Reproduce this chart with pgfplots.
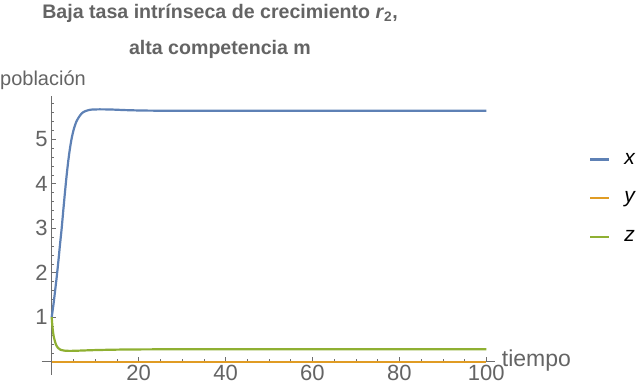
\documentclass[border=0pt]{standalone}
\usepackage{pgfplots}
\pgfplotsset{compat=1.18}
\usepackage{fontspec}
\setmainfont{Liberation Sans}
\definecolor{mblue}{RGB}{94,129,181}
\definecolor{morange}{RGB}{224,156,36}
\definecolor{mgreen}{RGB}{143,176,50}
\definecolor{lblgray}{RGB}{100,100,100}
\definecolor{axgray}{RGB}{110,110,110}
\begin{document}
\begin{tikzpicture}
\useasboundingbox (-41.7bp,-12bp) rectangle (595.3bp,375bp);
\begin{axis}[
  scale only axis,
  width=453.3bp, height=279bp,
  xmin=-2.3, xmax=102, ymin=-0.3, ymax=5.97,
  axis lines=middle,
  axis line style={-, draw=axgray, line width=0.6bp},
  xtick={20,40,60,80,100},
  ytick={1,2,3,4,5},
  minor xtick={5,10,...,100},
  minor ytick={0.2,0.4,...,5.9},
  tick align=inside,
  major tick length=4.5bp,
  minor tick length=2.5bp,
  tick style={draw=axgray, line width=0.5bp},
  /pgf/number format/assume math mode=true,
  ticklabel style={font=\fontsize{22bp}{26bp}\selectfont, text=lblgray},
  yticklabel style={xshift=-0.5bp},
  clip=false,
  legend style={draw=none, fill=none, at={(axis description cs:1.2074,0.634)}, anchor=west,
    font=\fontsize{21bp}{25bp}\selectfont, row sep=26bp, column sep=14bp, inner sep=0pt,
    nodes={inner sep=0pt}},
  legend cell align=left,
  legend image code/.code={\draw[#1, line width=2.1bp] (0bp,0bp) -- (19bp,0bp);},
]
\addplot[mblue, line width=2.2bp, smooth] coordinates {
(0,1.0) (0.4,1.28) (0.77,1.58) (1.15,1.9) (1.53,2.25) (1.9,2.62) (2.3,3.0) (2.65,3.38) (3.0,3.75)
(3.4,4.15) (3.8,4.5) (4.2,4.79) (4.6,5.02) (5.1,5.23) (5.7,5.40) (6.5,5.53) (7.3,5.61)
(8.8,5.66) (11,5.67) (14,5.665) (18,5.65) (25,5.64) (50,5.64) (100,5.64)};
\addlegendentry{\textit{x}}
\addplot[morange, line width=2.2bp] coordinates {(0,0) (50,0) (100,0)};
\addlegendentry{\textit{y}}
\addplot[mgreen, line width=2.2bp, smooth] coordinates {
(0,1.0) (0.2,0.76) (0.5,0.55) (1.0,0.38) (1.5,0.305) (2.0,0.268) (3.0,0.247) (4.0,0.242)
(5.0,0.243) (7,0.25) (10,0.26) (15,0.27) (20,0.275) (30,0.278) (60,0.28) (100,0.28)};
\addlegendentry{\textit{z}}
\node[anchor=base, text=lblgray, font=\bfseries\fontsize{19.6bp}{24bp}\selectfont] at (axis description cs:0.3933,1.2785) {Baja tasa intrínseca de crecimiento \textit{r}\textsubscript{2},};
\node[anchor=base, text=lblgray, font=\bfseries\fontsize{19.6bp}{24bp}\selectfont] at (axis description cs:0.3933,1.147) {alta competencia m};
\node[anchor=base west, inner sep=0pt, text=lblgray, font=\fontsize{20bp}{24bp}\selectfont] at (axis description cs:-0.092,1.039) {población};
\node[anchor=base west, inner sep=0pt, text=lblgray, font=\fontsize{23bp}{27bp}\selectfont] at (axis description cs:1.0148,0.0298) {tiempo};
\end{axis}
\end{tikzpicture}
\end{document}
